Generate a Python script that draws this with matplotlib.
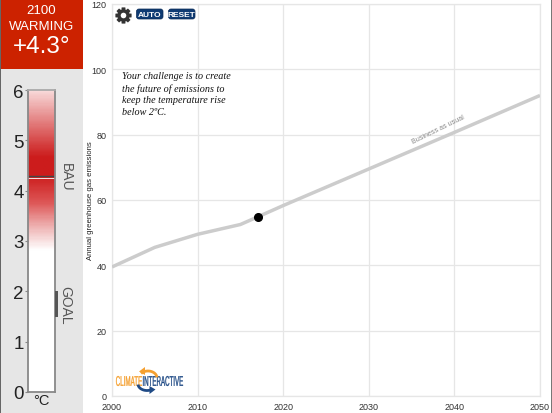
import numpy as np
import matplotlib
matplotlib.use("Agg")
import matplotlib.pyplot as plt
from matplotlib.colors import LinearSegmentedColormap
from matplotlib.patches import Rectangle, FancyBboxPatch, Polygon, Circle, PathPatch
from matplotlib.textpath import TextPath
from matplotlib.font_manager import FontProperties
from matplotlib.transforms import Affine2D

years = [2000, 2005, 2010, 2015, 2017, 2020, 2030, 2040, 2050]
emissions = [39.5, 45.5, 49.5, 52.5, 54.8, 58.3, 69.5, 80.7, 92]
marker_year = [2017]
marker_value = [54.8]
x_ticks = [2000, 2010, 2020, 2030, 2040, 2050]
y_ticks = [0, 20, 40, 60, 80, 100, 120]
temp_ticks = [0, 1, 2, 3, 4, 5, 6]
warming = 4.3
goal_range = [1.5, 2.0]

W, H = 552, 414
fig = plt.figure(figsize=(W / 100, H / 100), dpi=100, facecolor="white")
plt.rcParams["font.family"] = ["Liberation Sans", "DejaVu Sans"]

def axpx(l, t, r, b, **kw):
    return fig.add_axes([l / W, 1 - b / H, (r - l) / W, (b - t) / H], **kw)

bg = axpx(0, 0, W, H)
bg.set_xlim(0, W); bg.set_ylim(H, 0); bg.axis("off")
bg.add_patch(Rectangle((0, 0), 83, H, fc="#e6e6e6", ec="none"))
bg.add_patch(Rectangle((0, 0), 83, 70, fc="#cc2200", ec="none"))
bg.add_patch(Rectangle((0, 0), 1, H, fc="#666666", ec="none"))
bg.add_patch(Rectangle((551, 0), 1, H, fc="#777777", ec="none"))
bg.text(41.5, 11, "2100", color="white", ha="center", va="center", fontsize=9.5)
bg.text(41.5, 27.5, "WARMING", color="white", ha="center", va="center", fontsize=9.5)
bg.text(41.5, 47, "+4.3°", color="white", ha="center", va="center", fontsize=17.5)

ax = axpx(112, 5, 540, 397)
ax.patch.set_alpha(0)
ax.set_xlim(2000, 2050); ax.set_ylim(0, 120)
ax.set_xticks(x_ticks); ax.set_yticks(y_ticks)
ax.grid(color="#e6e6e6", lw=0.9)
ax.set_axisbelow(True)
ax.tick_params(length=0, labelsize=6.5, labelcolor="#333333", pad=4)
for s in ax.spines.values():
    s.set_color("#e6e6e6"); s.set_linewidth(0.9)
ax.plot(years, emissions, color="#cccccc", lw=2.5, solid_capstyle="butt", zorder=3)
ax.plot(marker_year, marker_value, "o", color="black", ms=5.5, zorder=4)
ax.text(2038.1, 81.8, "Business as usual", fontsize=5, color="#888888", rotation=26,
        ha="center", va="center", rotation_mode="anchor")
ax.text(2001.15, 92.6, "Your challenge is to create\nthe future of emissions to\nkeep the temperature rise\nbelow 2ºC.",
        family="Liberation Serif", style="italic", fontsize=7.3, color="#111111",
        va="center", ha="left", linespacing=1.35)

th = axpx(28, 91, 55, 393)
th.set_xlim(0, 1); th.set_ylim(0, 6)
stops = [(0.0, "#ffffff"), (0.47, "#ffffff"), (0.55, "#eeb0b0"), (0.63, "#dd5555"),
         (0.72, "#cc1c1c"), (0.78, "#cc1c1c"), (0.88, "#e07070"), (1.0, "#f8d8d8")]
cm = LinearSegmentedColormap.from_list("warm", stops)
th.imshow(np.linspace(1, 0, 300).reshape(-1, 1), cmap=cm, aspect="auto", extent=(0, 1, 0, 6), vmin=0, vmax=1)
th.axhline(warming, color="#444444", lw=1)
th.axhline(warming - 0.05, color="white", lw=0.6)
th.set_xticks([]); th.set_yticks(temp_ticks)
th.tick_params(axis="y", length=2, color="#888888", labelsize=13.5, pad=1, labelcolor="#222222")
for s in th.spines.values():
    s.set_color("#888888"); s.set_linewidth(1.3)
th.spines["top"].set_color("#aaaaaa")

ov = axpx(0, 0, W, H, zorder=5)
ov.set_xlim(0, W); ov.set_ylim(H, 0); ov.axis("off")
ov.patch.set_alpha(0)

def t2y(v):
    return 393 - v * (393 - 91) / 6

ov.add_patch(Rectangle((55, t2y(goal_range[1])), 3.2, t2y(goal_range[0]) - t2y(goal_range[1]), fc="#555555", ec="none"))
ov.text(65.5, 177, "BAU", rotation=-90, fontsize=10, color="#555555", ha="center", va="center")
ov.text(65.5, 305, "GOAL", rotation=-90, fontsize=10, color="#555555", ha="center", va="center")
ov.text(41, 401, "°C", fontsize=10.5, color="#222222", ha="center", va="center")
ov.text(90.5, 201, "Annual greenhouse gas emissions", rotation=90, fontsize=5.6, color="#222222", ha="center", va="center")

# gear icon
cx, cy = 123.5, 16.5
n = 8
pts = []
for i in range(n):
    a = 2 * np.pi * i / n
    for da, r in [(-0.36, 6.0), (-0.22, 8.3), (0.22, 8.3), (0.36, 6.0)]:
        pts.append((cx + r * np.cos(a + da), cy + r * np.sin(a + da)))
ov.add_patch(Polygon(pts, closed=True, fc="#333333", ec="none"))
ov.add_patch(Circle((cx, cy), 2.8, fc="white", ec="none"))

for x0, x1, lab in [(136.5, 163, "AUTO"), (168.5, 195, "RESET")]:
    ov.add_patch(FancyBboxPatch((x0, 10), x1 - x0, 10, boxstyle="round,pad=0,rounding_size=2.5", fc="#0f3b73", ec="#0a2a55", lw=0.5))
    ov.text((x0 + x1) / 2, 15.2, lab, color="white", fontsize=6, weight="bold", ha="center", va="center")

# logo: text squeezed to the logo's width
def squeezed(s, x0, x1, yb, h, color):
    tp = TextPath((0, 0), s, size=10, prop=FontProperties(family="Liberation Sans"))
    e = tp.get_extents()
    tr = Affine2D().translate(-e.x0, -e.y0).scale((x1 - x0) / e.width, -h / e.height).translate(x0, yb)
    ov.add_patch(PathPatch(tp, transform=tr + ov.transData, fc=color, ec=color, lw=0.2))

squeezed("CLIMATE", 116, 142, 387, 10, "#f5a030")
squeezed("INTERACTIVE", 143, 183, 387, 10, "#1f4a85")
ang = np.radians(np.linspace(-5, -140, 30))
ov.plot(148 + 9 * np.cos(ang), 379 + 7 * np.sin(ang), color="#f5a030", lw=2, solid_capstyle="butt")
ov.add_patch(Polygon([(139, 372.5), (145, 368), (145, 376)], fc="#f5a030", ec="none"))
ang = np.radians(np.linspace(175, 60, 30))
ov.plot(147 + 9 * np.cos(ang), 385 + 6.5 * np.sin(ang), color="#1f4a85", lw=2, solid_capstyle="butt")
ov.add_patch(Polygon([(155.5, 390.5), (149.5, 387), (149.5, 395)], fc="#1f4a85", ec="none"))

fig.savefig("out.png", dpi=100)
